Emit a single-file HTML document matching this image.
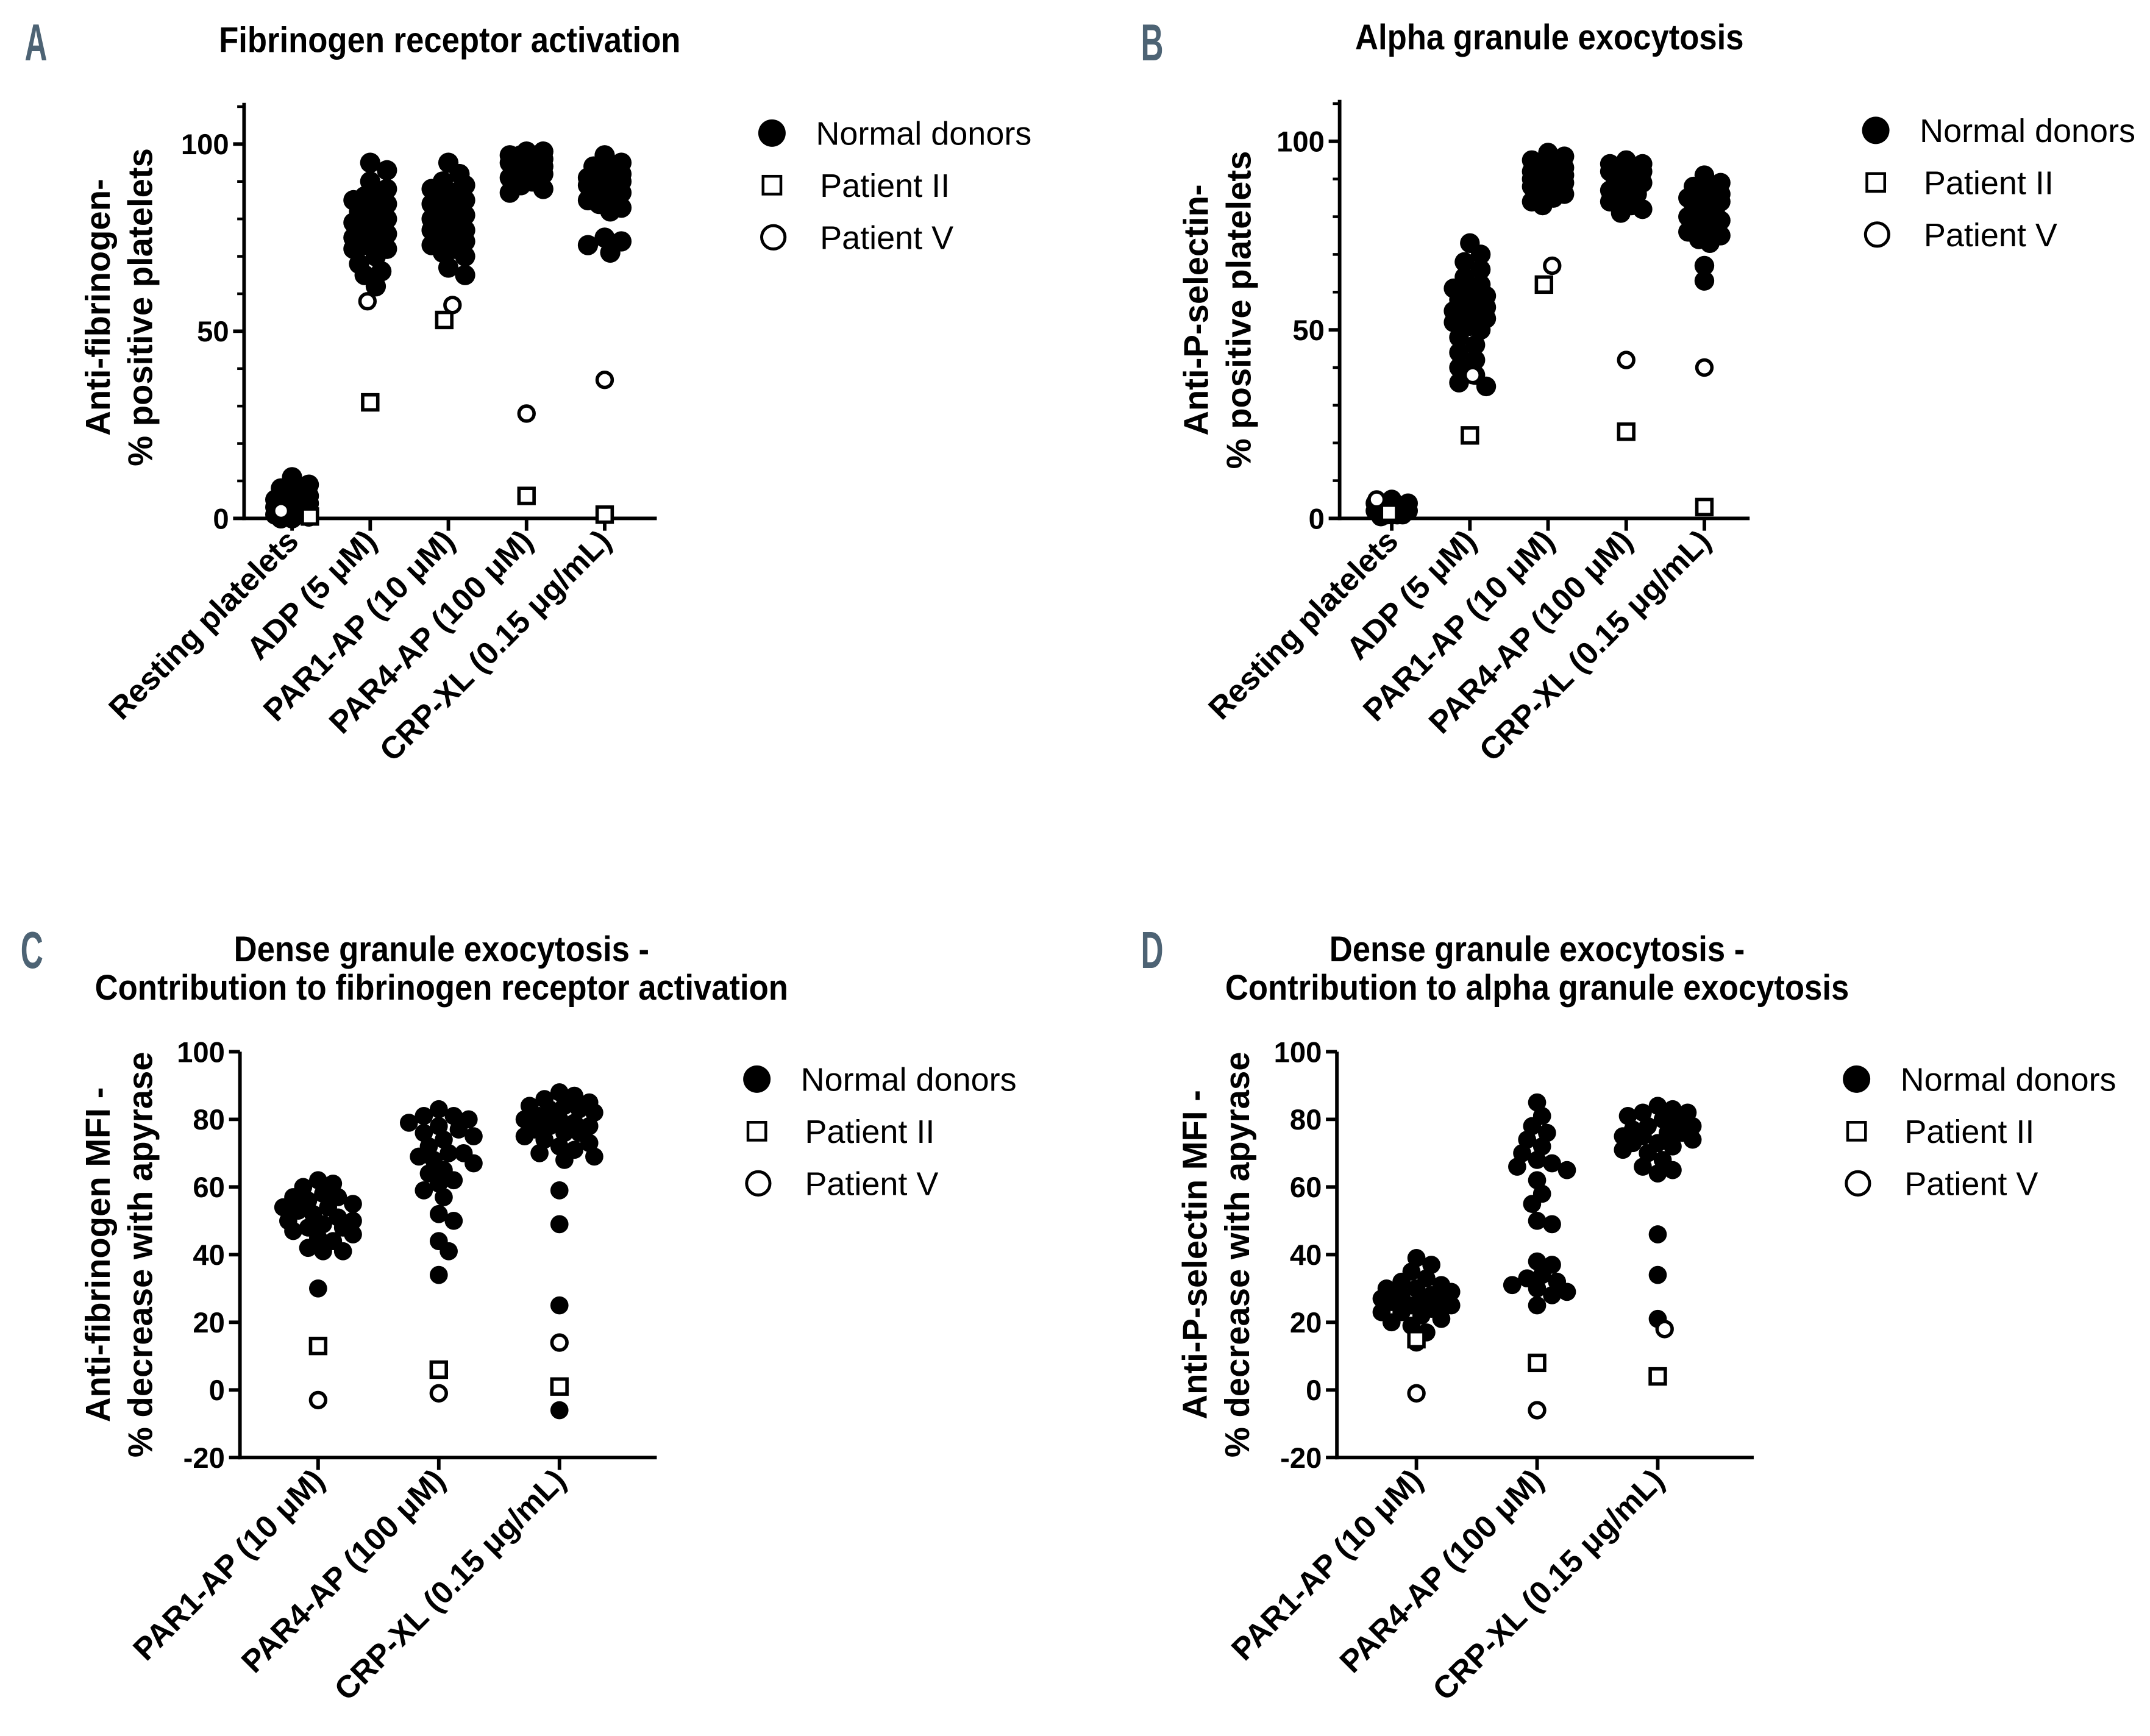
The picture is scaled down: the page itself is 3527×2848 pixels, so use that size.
<!DOCTYPE html>
<html><head><meta charset="utf-8">
<style>
html,body{margin:0;padding:0;background:#fff;}
svg{display:block;}
text{font-family:"Liberation Sans",Arial,sans-serif;}
</style></head>
<body>
<svg id="fig" width="3527" height="2848" viewBox="0 0 1568 1266" xmlns="http://www.w3.org/2000/svg"></svg>
<script>
// ---------- DATA ----------
const catsAB = ["Resting platelets","ADP (5 \u03bcM)","PAR1-AP (10 \u03bcM)","PAR4-AP (100 \u03bcM)","CRP-XL (0.15 \u03bcg/mL)"];
const catsCD = ["PAR1-AP (10 \u03bcM)","PAR4-AP (100 \u03bcM)","CRP-XL (0.15 \u03bcg/mL)"];

const donorsA = [
 [11,9,8,7,6,6,5,5,4,4,4,3,3,3,2,2,2,2,1,1,1,1,0.5,0.5,0,0],
 [95,93,90,88,86,86,85,84,83,82,82,81,80,79,78,77,76,75,74,73,72,72,70,68,66,65,62],
 [95,92,90,89,88,87,86,85,84,83,82,81,80,79,78,77,77,76,75,74,73,72,71,70,67,65],
 [98,98,97,97,97,96,96,96,95,95,95,94,94,93,93,92,92,91,90,89,88,87],
 [97,95,94,93,92,92,91,91,91,90,90,89,89,88,87,86,85,84,83,82,75,74,73,71]
];
const patIIA = [0.5,31,53,6,1];
const patVA = [2,58,57,28,37];

const donorsB = [
 [5,4,4,3,3,3,2,2,2,2,1,1,1,1,0.5],
 [73,70,68,66,64,62,61,60,59,58,57,56,56,55,54,54,53,52,51,50,48,46,44,42,40,38,36,35],
 [97,96,95,94,93,93,92,92,91,91,90,90,89,89,88,88,87,86,85,84,83],
 [95,94,94,93,93,92,92,91,91,90,90,89,88,87,86,85,84,83,82,81],
 [91,89,88,87,86,85,85,84,84,83,83,82,81,80,80,79,78,77,76,75,74,73,67,63]
];
const patIIB = [1.5,22,62,23,3];
const patVB = [5,38,67,42,40];

const donorsC = [
 [62,61,60,58,57,57,56,55,54,54,53,52,51,50,50,49,48,48,47,46,45,44,42,41,41,30],
 [83,81,81,80,79,78,77,76,75,74,72,70,70,69,68,67,65,64,62,61,59,57,52,50,44,41,34],
 [88,87,86,85,84,84,83,83,82,81,80,80,79,78,78,77,76,76,75,74,73,72,71,70,69,68,59,49,25,-6]
];
const patIIC = [13,6,1];
const patVC = [-3,-1,14];

const donorsD = [
 [39,37,35,33,32,31,30,30,29,28,28,27,27,26,26,25,25,24,23,23,22,21,20,19,17,14],
 [85,81,78,76,74,72,70,68,67,66,65,62,58,55,50,49,38,37,34,33,32,31,30,29,28,25],
 [84,83,82,82,81,80,79,78,78,77,76,76,75,75,74,73,73,72,71,70,68,66,65,64,46,34,21]
];
const patIID = [15,8,4];
const patVD = [-1,-6,18];

const ticksAB = [0,50,100];
const ticksCD = [-20,0,20,40,60,80,100];

// ---------- DRAW ----------
const NS = "http://www.w3.org/2000/svg";
const svg = document.getElementById("fig");
function mk(tag, attrs, parent){
  const e = document.createElementNS(NS, tag);
  for (const k in attrs) e.setAttribute(k, attrs[k]);
  (parent||svg).appendChild(e);
  return e;
}

function swarm(vals, y, r, maxW){
  const placed = [];
  const order = vals.map((v,i)=>i).sort((a,b)=>vals[b]-vals[a]);
  const off = new Array(vals.length).fill(0);
  const d = 2*r*0.75;
  const step = r*0.55;
  const cands = [0];
  for (let k=1; k*step<=maxW; k++){ cands.push(k*step); cands.push(-k*step); }
  order.forEach(i=>{
    const py = y(vals[i]);
    let best = 0, bestScore = -1;
    for (const c of cands){
      let mind = 1e9;
      for (const p of placed){
        const dx=p.x-c, dy=p.y-py;
        mind = Math.min(mind, Math.sqrt(dx*dx+dy*dy));
      }
      if (mind >= d){ best=c; bestScore=1e9; break; }
      if (mind > bestScore){ bestScore=mind; best=c; }
    }
    off[i]=best;
    placed.push({x:best,y:py});
  });
  return off;
}

function panel(o){
  const g = mk("g",{});
  
  
  const y = v => o.y0 + (v - o.vmin)/(o.vmax - o.vmin)*(o.y1 - o.y0);
  const L = mk("text",{x:o.letterX,y:o.letterY,"font-size":38,"font-weight":"bold",fill:"#4d6374",transform:`translate(${o.letterX},0) scale(0.6,1) translate(${-o.letterX},0)`},g);
  L.textContent = o.letter;
  
  
  o.title.forEach((t,i)=>{
    const T = mk("text",{x:o.titleX,y:o.titleY+i*28,"font-size":26,"font-weight":"bold","text-anchor":"middle",fill:"#000",transform:`translate(${o.titleX},0) scale(0.9,1) translate(${-o.titleX},0)`},g);
    T.textContent = t;
    
    
  });
  o.ytitle.forEach((t,i)=>{
    const yy = o.ytitleY;
    const xx = o.ytitleX + i*31;
    const T = mk("text",{x:xx,y:yy,"font-size":25,"font-weight":"bold","text-anchor":"middle",fill:"#000",transform:`rotate(-90 ${xx} ${yy})`},g);
    T.textContent = t;
    
    
  });
  const ax = mk("line",{x1:o.ax,y1:y(o.vtop),x2:o.ax,y2:o.axisY+1.3,stroke:"#000","stroke-width":2.6},g);
  
  
  const xa = mk("line",{x1:o.ax-1.3,y1:o.axisY,x2:o.axEnd,y2:o.axisY,stroke:"#000","stroke-width":2.6},g);
  
  
  if (o.minor){
    for (let v=o.vmin; v<=o.vtop; v+=o.minor){
      mk("line",{x1:o.ax-5,y1:y(v),x2:o.ax,y2:y(v),stroke:"#000","stroke-width":2},g);
    }
  }
  o.ticks.forEach(v=>{
    mk("line",{x1:o.ax-8,y1:y(v),x2:o.ax,y2:y(v),stroke:"#000","stroke-width":2.6},g);
    const T = mk("text",{x:o.ax-11,y:y(v)+7.5,"font-size":21,"font-weight":"bold","text-anchor":"end",fill:"#000"},g);
    T.textContent = v;
    
    
  });
  o.cats.forEach((c,i)=>{
    const cx = o.cx0 + i*o.cdx;
    mk("line",{x1:cx,y1:o.axisY,x2:cx,y2:o.axisY+9,stroke:"#000","stroke-width":2.6},g);
    const tx = cx+6, ty = o.axisY+18;
    const T = mk("text",{x:tx,y:ty,"font-size":23,"font-weight":"bold","text-anchor":"end",fill:"#000",transform:`rotate(-45 ${tx} ${ty})`},g);
    T.textContent = c;
    
    
    const offs = swarm(o.donors[i], y, o.r, o.maxW);
    o.donors[i].forEach((v,j)=>{
      const d = mk("circle",{cx:cx+offs[j],cy:y(v),r:o.r,fill:"#000"},g);
      
      
    });
    const sx = cx + (o.sqOff?o.sqOff[i]:0);
    const s = mk("rect",{x:sx-5.5,y:y(o.pII[i])-5.5,width:11,height:11,fill:"#fff",stroke:"#000","stroke-width":2.5},g);
    
    
    const vx = cx + (o.cOff?o.cOff[i]:0);
    const c2 = mk("circle",{cx:vx,cy:y(o.pV[i]),r:5.5,fill:"#fff",stroke:"#000","stroke-width":2.5},g);
    
    
  });
  const lg = mk("g",{},g);
  
  
  const lx = o.legX, ly = o.legY;
  mk("circle",{cx:lx,cy:ly,r:10,fill:"#000"},lg);
  mk("rect",{x:lx-6.5,y:ly+38-6.5,width:13,height:13,fill:"#fff",stroke:"#000","stroke-width":2},lg);
  mk("circle",{cx:lx+1,cy:ly+76,r:8.5,fill:"#fff",stroke:"#000","stroke-width":2.2},lg);
  [["Normal donors",0,32],["Patient II",38,35],["Patient V",76,35]].forEach(([t,dy,dx])=>{
    const T = mk("text",{x:lx+dx,y:ly+dy+8.5,"font-size":24,fill:"#000"},lg);
    T.textContent = t;
    
    
  });
}

panel({name:"panel-a",letter:"A",letterX:18,letterY:44,title:["Fibrinogen receptor activation"],titleX:328,titleY:38,
  ytitle:["Anti-fibrinogen-","% positive platelets"],ytitleX:80,ytitleY:224,
  ax:178,axEnd:479,axisY:378,vmin:0,vmax:100,y0:378,y1:105,vtop:111,ticks:ticksAB,minor:10,
  cats:catsAB,cx0:213,cdx:57,donors:donorsA,pII:patIIA,pV:patVA,sqOff:[13,0,-3,0,0],cOff:[-8,-2,3,0,0],
  r:7.4,maxW:14,legX:563,legY:97});
panel({name:"panel-b",letter:"B",letterX:832,letterY:44,title:["Alpha granule exocytosis"],titleX:1130,titleY:36,
  ytitle:["Anti-P-selectin-","% positive platelets"],ytitleX:881,ytitleY:226,
  ax:977,axEnd:1276,axisY:378,vmin:0,vmax:100,y0:378,y1:103,vtop:111,ticks:ticksAB,minor:10,
  cats:catsAB,cx0:1015,cdx:57,donors:donorsB,pII:patIIB,pV:patVB,sqOff:[-2,0,-3,0,0],cOff:[-11,2,3,0,0],
  r:7.2,maxW:14,legX:1368,legY:95});
panel({name:"panel-c",letter:"C",letterX:15,letterY:706,title:["Dense granule exocytosis -","Contribution to fibrinogen receptor activation"],titleX:322,titleY:701,
  ytitle:["Anti-fibrinogen MFI -","% decrease with apyrase"],ytitleX:80,ytitleY:915,
  ax:175,axEnd:479,axisY:1063,vmin:-20,vmax:100,y0:1063,y1:767,vtop:100,ticks:ticksCD,minor:0,
  cats:catsCD,cx0:232,cdx:88,donors:donorsC,pII:patIIC,pV:patVC,
  r:6.6,maxW:26,legX:552,legY:787});
panel({name:"panel-d",letter:"D",letterX:832,letterY:706,title:["Dense granule exocytosis -","Contribution to alpha granule exocytosis"],titleX:1121,titleY:701,
  ytitle:["Anti-P-selectin MFI -","% decrease with apyrase"],ytitleX:880,ytitleY:915,
  ax:975,axEnd:1279,axisY:1063,vmin:-20,vmax:100,y0:1063,y1:767,vtop:100,ticks:ticksCD,minor:0,
  cats:catsCD,cx0:1033,cdx:88,donors:donorsD,pII:patIID,pV:patVD,cOff:[0,0,5],
  r:6.6,maxW:26,legX:1354,legY:787});
</script>
</body></html>
